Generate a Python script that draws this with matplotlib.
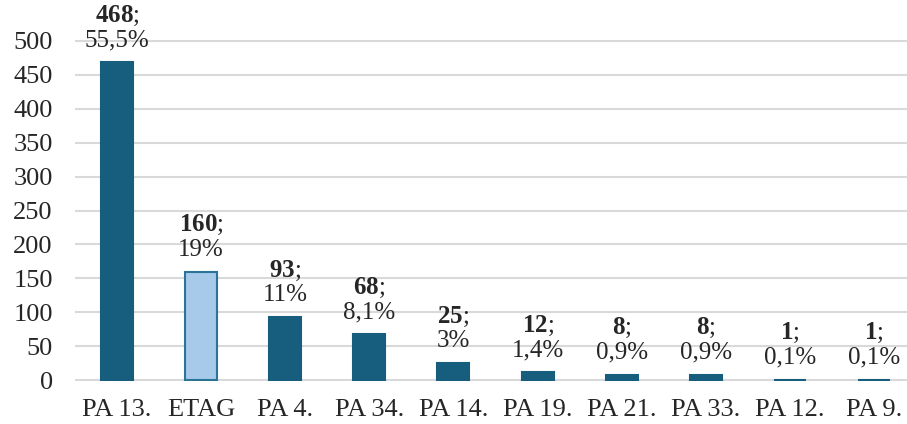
import matplotlib
matplotlib.use("Agg")
import matplotlib.pyplot as plt
import numpy as np

categories = ["PA 13.", "ETAG", "PA 4.", "PA 34.", "PA 14.", "PA 19.", "PA 21.", "PA 33.", "PA 12.", "PA 9."]
counts = [468, 160, 93, 68, 25, 12, 8, 8, 1, 1]
shares = ["55,5%", "19%", "11%", "8,1%", "3%", "1,4%", "0,9%", "0,9%", "0,1%", "0,1%"]
y_ticks = [0, 50, 100, 150, 200, 250, 300, 350, 400, 450, 500]

plt.rcParams['font.family'] = ['Liberation Serif', 'DejaVu Serif']
plt.rcParams['mathtext.fontset'] = 'custom'
plt.rcParams['mathtext.rm'] = 'Liberation Serif'
plt.rcParams['mathtext.bf'] = 'Liberation Serif:bold'

dark = '#175e7e'
light = '#a7c9ea'

fig = plt.figure(figsize=(9.07, 4.24), dpi=100)
# axes stretches a bit past the right edge, like the cropped original
ax = fig.add_axes([75/907, 43/424, 841/907, 341/424])

x = np.arange(len(categories))
face = [light if c == "ETAG" else dark for c in categories]
edge = ['#2a7597' if c == "ETAG" else dark for c in categories]
ax.bar(x, counts, width=0.38, color=face, edgecolor=edge, linewidth=1.5, zorder=3)

for xi, n, s in zip(x, counts, shares):
    ax.annotate("$\\mathbf{%d}$;\n%s" % (n, s), (xi, n), xytext=(0, 8),
                textcoords='offset points', ha='center', va='bottom',
                fontsize=18, color='#262626', linespacing=1.08,
                annotation_clip=False)

ax.set_xlim(-0.5, len(categories) - 0.5)
ax.set_ylim(-1, 501)
ax.set_yticks(y_ticks)
ax.set_xticks(x)
ax.set_xticklabels(categories)
ax.tick_params(axis='both', length=0, labelsize=19, colors='#262626')
ax.tick_params(axis='y', pad=16)
ax.tick_params(axis='x', pad=13)
ax.grid(axis='y', color='#d9d9d9', linewidth=1.5, zorder=0)
ax.set_axisbelow(True)
for sp in ax.spines.values():
    sp.set_visible(False)

fig.savefig("out.png", dpi=100)
